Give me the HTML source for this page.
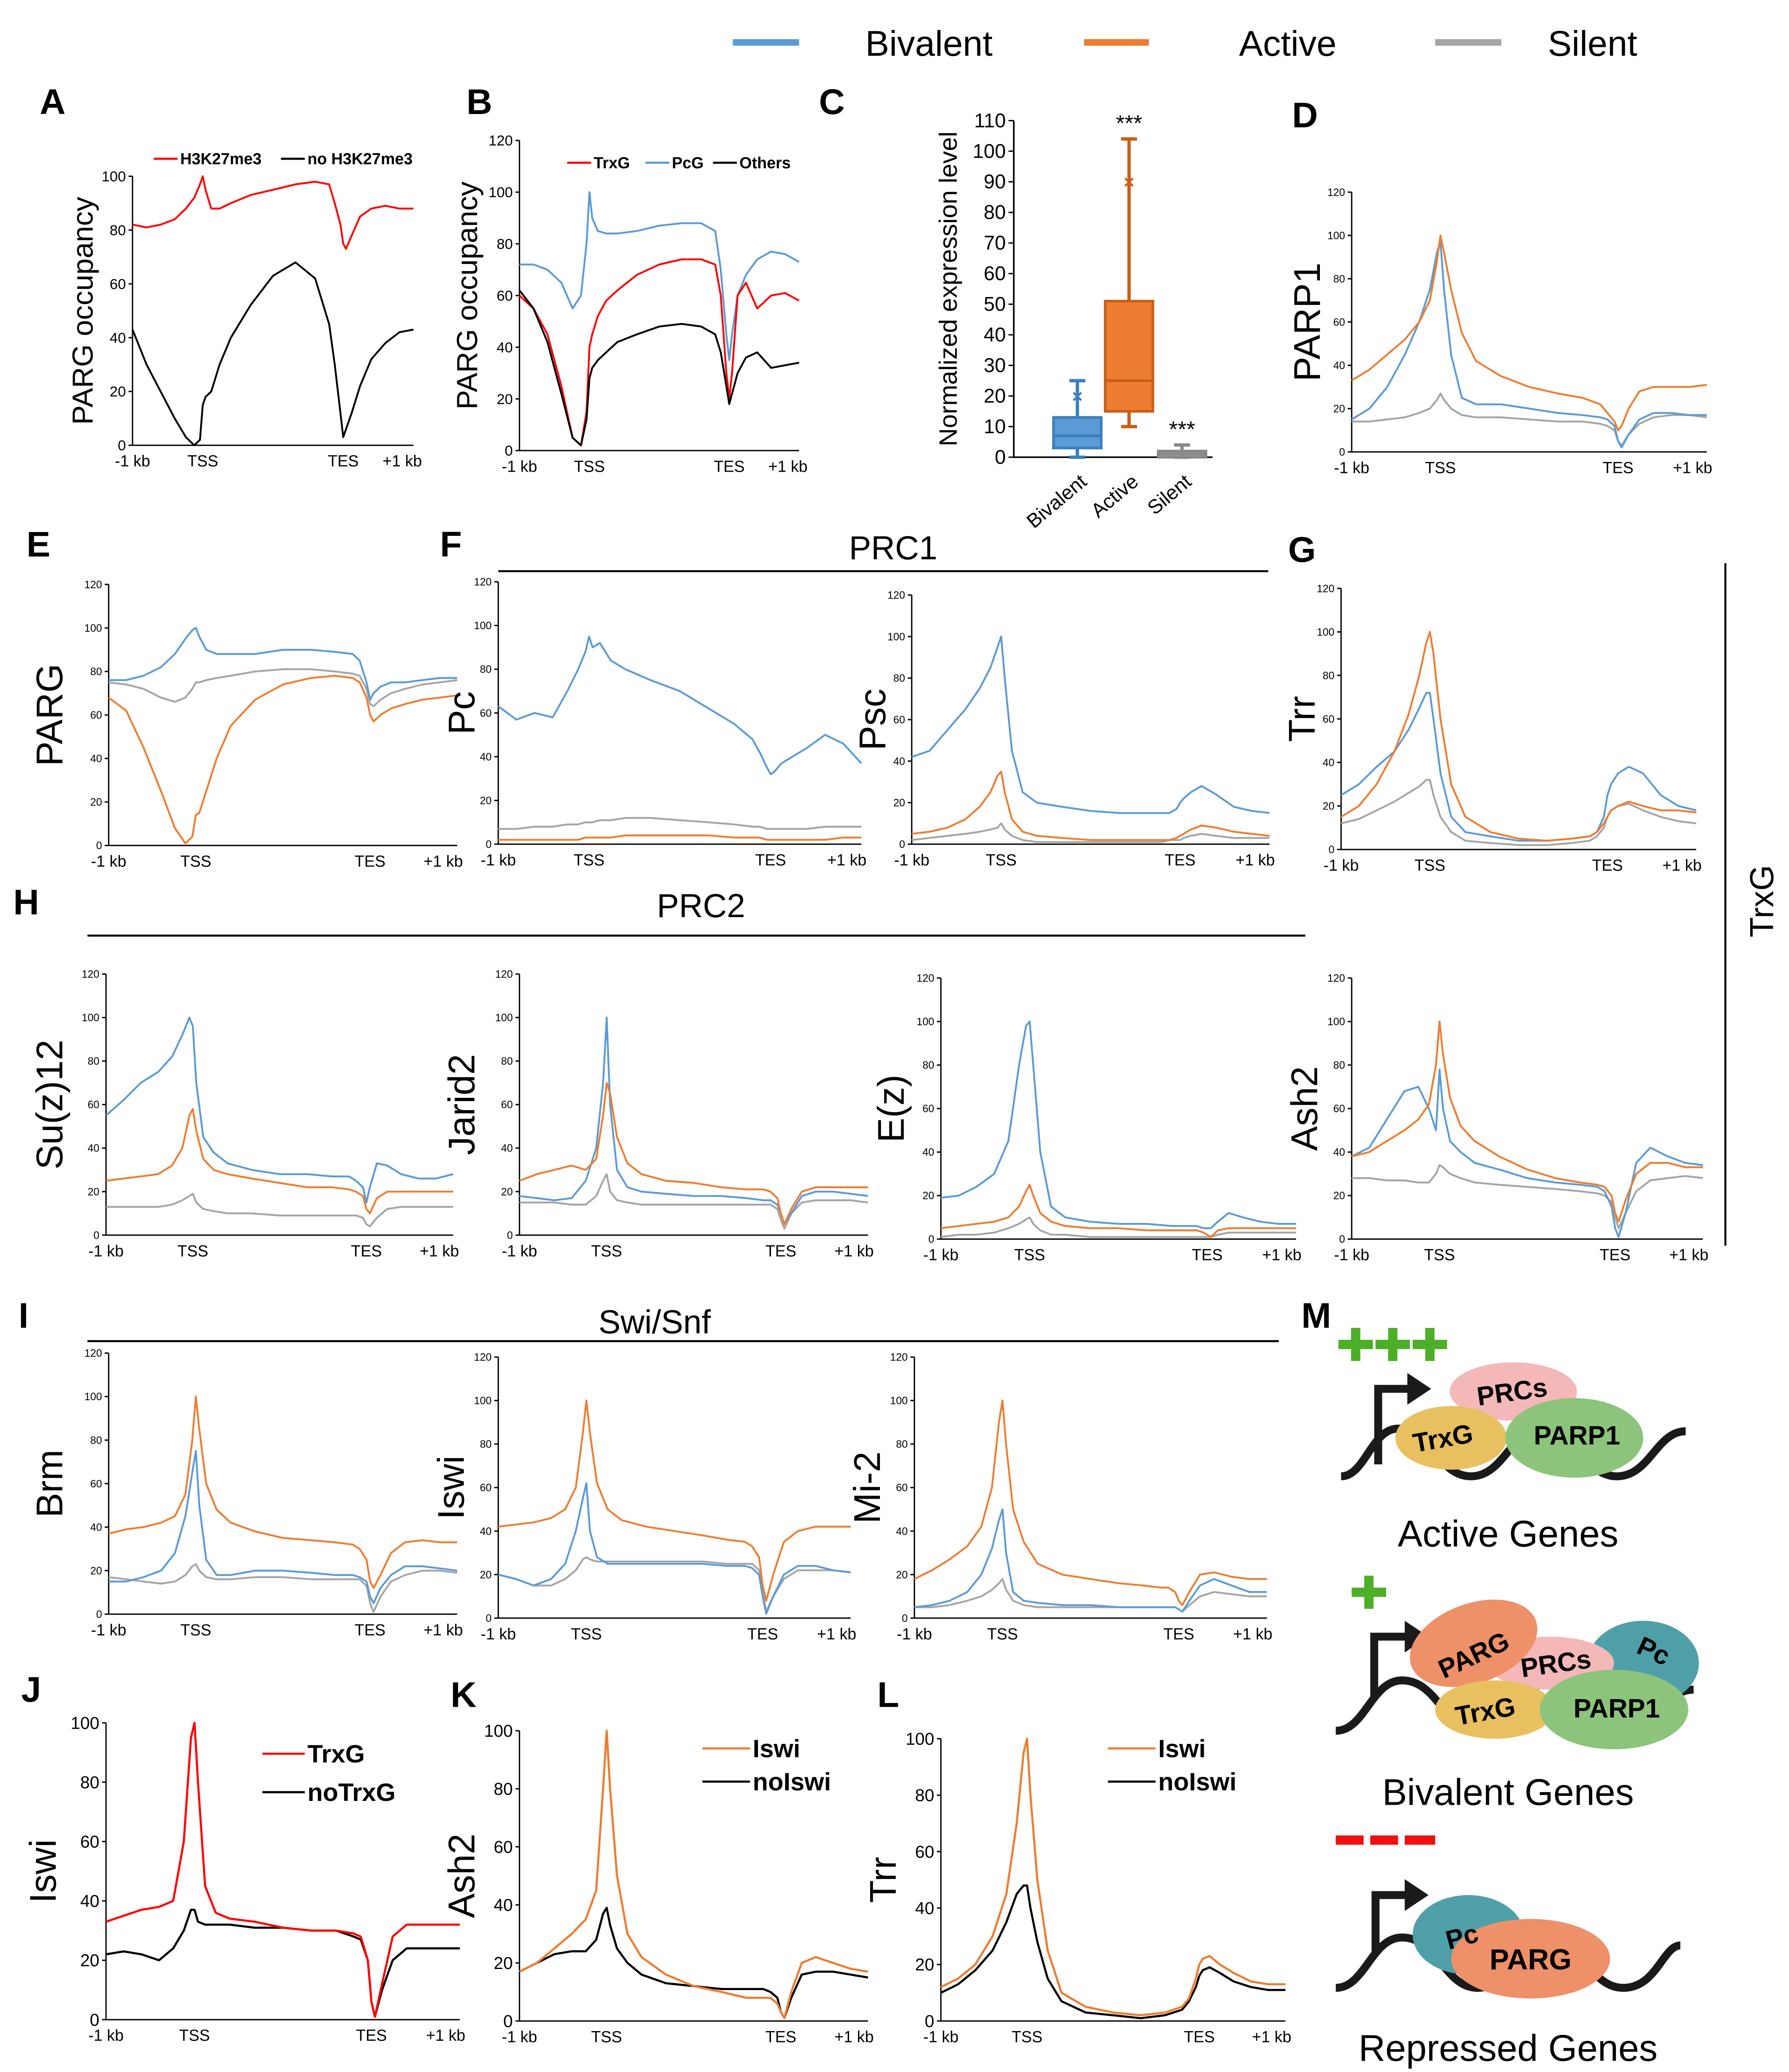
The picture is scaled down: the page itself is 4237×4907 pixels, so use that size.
<!DOCTYPE html>
<html><head><meta charset="utf-8">
<style>
html,body{margin:0;padding:0;background:#fff;}
svg{display:block;}
text{font-family:"Liberation Sans",sans-serif;}
</style></head>
<body>
<svg id="fig" xmlns="http://www.w3.org/2000/svg" width="4237" height="4907" viewBox="0 0 1350 1563.5" preserveAspectRatio="none">
<rect width="1350" height="1563.5" fill="#fff"/>
<g>
<line x1="553" y1="32" x2="603" y2="32" stroke="#5b9bd5" stroke-width="5"/>
<text x="653" y="42" font-size="27">Bivalent</text>
<line x1="818" y1="32" x2="867" y2="32" stroke="#ed7d31" stroke-width="5"/>
<text x="935" y="42" font-size="27">Active</text>
<line x1="1083" y1="32" x2="1133" y2="32" stroke="#a5a5a5" stroke-width="5"/>
<text x="1168" y="42" font-size="27">Silent</text>
</g>
<g font-weight="bold" font-size="27">
<text x="30" y="86">A</text><text x="352" y="86">B</text><text x="618" y="86">C</text><text x="975" y="96">D</text>
<text x="20" y="420">E</text><text x="332" y="420">F</text><text x="972" y="424">G</text>
<text x="10" y="690">H</text><text x="14" y="1002">I</text><text x="16" y="1284">J</text>
<text x="340" y="1288">K</text><text x="662" y="1288">L</text><text x="982" y="1002">M</text>
</g>
<g font-size="25">
<text x="674" y="422" text-anchor="middle">PRC1</text>
<line x1="376" y1="431" x2="957" y2="431" stroke="#000" stroke-width="1.5"/>
<text x="529" y="692" text-anchor="middle">PRC2</text>
<line x1="66" y1="706" x2="985" y2="706" stroke="#000" stroke-width="1.5"/>
<text x="494" y="1006" text-anchor="middle">Swi/Snf</text>
<line x1="66" y1="1012" x2="965" y2="1012" stroke="#000" stroke-width="1.5"/>
<line x1="1302" y1="425" x2="1302" y2="940" stroke="#000" stroke-width="1.5"/>
<text transform="translate(1338,680) rotate(-90)" text-anchor="middle">TrxG</text>
</g>
<g id="charts"></g>
<g id="boxplot"></g>
<g font-weight="bold">
<g>
<g fill="#4caf27"><rect x="1010" y="1011" width="26" height="7"/><rect x="1019.5" y="1002" width="7" height="25"/>
<rect x="1038" y="1011" width="26" height="7"/><rect x="1047.5" y="1002" width="7" height="25"/>
<rect x="1066" y="1011" width="26" height="7"/><rect x="1075.5" y="1002" width="7" height="25"/></g>
<path d="M1012,1114 C1030,1114 1035,1078 1055,1078 C1080,1078 1085,1114 1110,1114 C1135,1114 1140,1078 1165,1078 C1190,1078 1195,1114 1220,1114 C1245,1114 1250,1080 1272,1080" fill="none" stroke="#1a1a1a" stroke-width="6"/>
<path d="M1040,1105 L1040,1048 L1065,1048" fill="none" stroke="#1a1a1a" stroke-width="6"/><polygon points="1062,1036 1080,1048 1062,1060" fill="#1a1a1a"/>
<ellipse cx="1142" cy="1050" rx="48" ry="22" fill="#f4b8b8"/>
<ellipse cx="1095" cy="1085" rx="42" ry="24" fill="#e8c060"/>
<ellipse cx="1188" cy="1085" rx="52" ry="30" fill="#8cc47c"/>
<text x="1142" y="1057" font-size="20" text-anchor="middle" transform="rotate(-8,1142,1057)">PRCs</text>
<text x="1090" y="1092" font-size="20" text-anchor="middle" transform="rotate(-10,1090,1092)">TrxG</text>
<text x="1190" y="1090" font-size="20" text-anchor="middle">PARP1</text>
<text x="1138" y="1167" font-size="28" font-weight="normal" text-anchor="middle">Active Genes</text>
</g>
<g>
<rect x="1020" y="1198" width="26" height="7" fill="#4caf27"/><rect x="1029.5" y="1189" width="7" height="25" fill="#4caf27"/>
<path d="M1008,1306 C1030,1306 1035,1268 1058,1268 C1085,1268 1090,1306 1115,1306 C1140,1306 1145,1270 1170,1270 C1195,1270 1200,1306 1225,1306 C1250,1306 1255,1275 1278,1275" fill="none" stroke="#1a1a1a" stroke-width="6"/>
<path d="M1037,1280 L1037,1235 L1062,1235" fill="none" stroke="#1a1a1a" stroke-width="6"/><polygon points="1060,1223 1078,1235 1060,1247" fill="#1a1a1a"/>
<ellipse cx="1240" cy="1255" rx="42" ry="32" fill="#4f9fa8"/>
<ellipse cx="1170" cy="1255" rx="48" ry="20" fill="#f4b8b8"/>
<ellipse cx="1112" cy="1240" rx="50" ry="30" fill="#ee9068" transform="rotate(-20,1112,1240)"/>
<ellipse cx="1128" cy="1290" rx="45" ry="22" fill="#e8c060"/>
<ellipse cx="1218" cy="1290" rx="56" ry="30" fill="#8cc47c"/>
<text x="1115" y="1255" font-size="20" text-anchor="middle" transform="rotate(-25,1115,1255)">PARG</text>
<text x="1175" y="1262" font-size="20" text-anchor="middle" transform="rotate(-8,1175,1262)">PRCs</text>
<text x="1245" y="1252" font-size="20" text-anchor="middle" transform="rotate(25,1245,1252)">Pc</text>
<text x="1122" y="1298" font-size="20" text-anchor="middle" transform="rotate(-10,1122,1298)">TrxG</text>
<text x="1220" y="1296" font-size="20" text-anchor="middle">PARP1</text>
<text x="1138" y="1362" font-size="28" font-weight="normal" text-anchor="middle">Bivalent Genes</text>
</g>
<g>
<g fill="#ee1010"><rect x="1008" y="1385" width="21" height="7"/><rect x="1034" y="1385" width="21" height="7"/><rect x="1060" y="1385" width="23" height="7"/></g>
<path d="M1008,1500 C1030,1500 1035,1462 1058,1462 C1085,1462 1090,1500 1115,1500 C1140,1500 1145,1465 1170,1465 C1195,1465 1200,1500 1225,1500 C1250,1500 1255,1468 1268,1468" fill="none" stroke="#1a1a1a" stroke-width="6"/>
<path d="M1038,1475 L1038,1430 L1062,1430" fill="none" stroke="#1a1a1a" stroke-width="6"/><polygon points="1060,1418 1078,1430 1060,1442" fill="#1a1a1a"/>
<ellipse cx="1108" cy="1460" rx="42" ry="30" fill="#4f9fa8"/>
<ellipse cx="1155" cy="1478" rx="60" ry="30" fill="#ee9068"/>
<text x="1105" y="1468" font-size="20" text-anchor="middle" transform="rotate(-15,1105,1468)">Pc</text>
<text x="1155" y="1486" font-size="22" text-anchor="middle">PARG</text>
<text x="1138" y="1555" font-size="28" font-weight="normal" text-anchor="middle">Repressed Genes</text>
</g>
</g>
</svg>
<script>
const NS="http://www.w3.org/2000/svg";
const xPos=[0,5,10,15,19,22,24,25,26,28,31,35,42,50,58,65,70,72,74,75,76,78,81,85,90,95,100];
const xTickLabels=["-1 kb","TSS","TES","+1 kb"];
const xTickVals=[0,25,75,96];
const ticks100=[0,20,40,60,80,100];
const ticks120=[0,20,40,60,80,100,120];
// Panel A
const aH3K27=[82,81,82,84,88,92,97,100,95,88,88,90,93,95,97,98,97,90,82,75,73,78,85,88,89,88,88];
const aNoH3K27=[43,30,20,10,3,0,2,15,18,20,30,40,52,63,68,62,45,30,12,3,6,12,22,32,38,42,43];
// Panel B
const bPcG=[72,72,70,65,55,60,80,100,90,85,84,84,85,87,88,88,85,70,45,35,45,60,68,74,77,76,73];
const bTrxG=[60,55,45,25,5,2,15,40,45,52,58,62,68,72,74,74,72,60,30,20,30,60,65,55,60,61,58];
const bOthers=[62,55,42,22,5,2,12,28,32,35,38,42,45,48,49,48,45,38,25,18,22,30,36,38,32,33,34];
// Panel D PARP1
const dAct=[33,38,45,52,60,70,88,100,92,75,55,42,35,30,27,25,22,18,14,10,12,20,28,30,30,30,31];
const dBiv=[15,20,30,45,60,75,92,97,75,45,25,22,22,20,18,17,16,15,12,5,2,8,15,18,18,17,17];
const dSil=[14,14,15,16,18,20,24,27,24,20,17,16,16,15,14,14,13,12,10,5,3,8,13,16,17,17,16];
// Panel E PARG
const eBiv=[76,76,78,82,88,95,99,100,96,90,88,88,88,90,90,89,88,85,75,67,70,73,75,75,76,77,77];
const eSil=[75,74,72,68,66,68,72,75,75,76,77,78,80,81,81,80,79,78,72,65,64,67,70,72,74,75,76];
const eAct=[68,62,45,25,8,1,4,14,15,25,40,55,67,74,77,78,77,75,68,60,57,60,63,65,67,68,69];
// Panel F Pc
const pcBiv=[63,57,60,58,70,80,88,95,90,92,84,80,75,70,62,55,48,42,35,32,33,37,40,44,50,46,37];
const pcSil=[7,7,8,8,9,9,10,10,10,11,11,12,12,11,10,9,8,8,7,7,7,7,7,7,8,8,8];
const pcAct=[2,2,2,2,2,2,3,3,3,3,3,4,4,4,4,3,3,3,2,2,2,2,2,2,2,3,3];
// Panel F Psc
const pscBiv=[42,45,55,65,75,85,95,100,80,45,25,20,18,16,15,15,15,15,17,20,22,25,28,24,18,16,15];
const pscAct=[5,6,8,12,18,25,33,35,25,12,6,4,3,2,2,2,2,2,3,4,5,7,9,8,6,5,4];
const pscSil=[2,3,4,5,6,7,8,10,7,4,2,1,1,1,1,1,1,2,2,2,3,4,5,4,3,3,3];
// Panel G Trr
const trrAct=[15,20,30,45,62,80,95,100,90,60,30,15,8,5,4,5,6,8,12,15,18,20,22,20,18,18,17];
const trrBiv=[25,30,38,45,55,65,72,72,60,35,15,8,6,4,4,5,6,8,15,25,30,35,38,35,25,20,18];
const trrSil=[12,14,18,22,26,29,32,32,25,15,8,4,3,2,2,3,4,6,10,15,18,20,21,18,15,13,12];
// Panel H
const suzBiv=[55,62,70,75,82,92,100,96,70,45,38,33,30,28,28,27,27,25,22,15,22,33,32,28,26,26,28];
const suzAct=[25,26,27,28,32,40,55,58,48,35,30,28,26,24,22,22,21,20,18,12,10,17,20,20,20,20,20];
const suzSil=[13,13,13,13,14,16,18,19,15,12,11,10,10,9,9,9,9,9,8,5,4,8,12,13,13,13,13];
const jarBiv=[18,17,16,17,25,40,70,100,60,30,22,20,19,18,18,17,16,16,14,10,5,10,18,20,20,19,18];
const jarAct=[25,28,30,32,30,35,55,70,65,45,33,28,25,24,22,21,21,20,17,10,5,12,20,22,22,22,22];
const jarSil=[15,15,15,14,14,18,25,28,20,16,15,14,14,14,14,14,14,14,12,7,3,10,15,16,16,16,15];
const ezBiv=[19,20,24,30,45,80,98,100,80,40,15,10,8,7,7,6,6,6,5,5,5,8,12,10,8,7,7];
const ezAct=[5,6,7,8,10,15,22,25,20,12,8,6,5,5,4,4,4,4,3,2,1,4,5,5,5,5,5];
const ezSil=[1,2,2,3,5,7,9,10,7,4,2,2,1,1,1,1,1,1,1,1,1,2,3,3,3,3,3];
const ashAct=[38,40,45,50,55,62,80,100,85,65,52,45,38,32,28,26,25,24,20,12,8,18,30,35,35,33,33];
const ashBiv=[38,42,55,68,70,60,50,78,60,45,40,35,32,28,26,25,24,22,15,5,1,12,35,42,38,35,34];
const ashSil=[28,28,27,27,26,26,30,34,33,30,28,26,25,24,23,22,21,20,17,10,5,12,22,27,28,29,28];
// Panel I
const brmAct=[37,39,40,42,45,55,80,100,85,60,48,42,38,35,34,33,32,30,25,15,12,18,28,33,34,33,33];
const brmBiv=[15,15,17,20,28,45,65,75,50,25,18,18,20,20,19,18,18,17,15,8,5,12,18,22,22,21,20];
const brmSil=[17,16,15,14,15,18,22,23,20,17,16,16,17,17,16,16,16,16,13,5,1,8,15,18,20,20,19];
const iswAct=[42,43,44,46,50,60,85,100,85,62,50,45,42,40,38,36,35,33,28,15,8,20,35,40,42,42,42];
const iswBiv=[20,18,15,18,25,40,55,62,40,28,25,25,25,25,25,24,24,23,20,10,2,10,20,24,24,22,21];
const iswSil=[20,18,15,15,18,22,27,28,27,26,26,26,26,26,26,25,25,25,22,12,3,10,18,22,22,22,21];
const mi2Act=[18,22,27,33,42,60,90,100,80,50,35,25,20,18,16,15,14,14,12,8,6,12,20,21,19,18,18];
const mi2Biv=[5,6,8,12,20,32,45,50,30,12,8,7,6,6,5,5,5,5,5,4,3,8,15,18,15,12,12];
const mi2Sil=[5,5,6,8,10,13,16,18,13,8,6,5,5,5,5,5,5,5,5,4,3,6,10,12,11,10,10];
// Panels J K L
const jTrxG=[33,35,37,38,40,60,95,100,80,45,36,34,33,31,30,30,29,28,20,6,1,12,28,32,32,32,32];
const jNoTrxG=[22,23,22,20,24,30,37,37,33,32,32,32,31,31,30,30,28,27,20,6,1,10,20,24,24,24,24];
const kIswi=[17,20,25,30,35,45,80,100,80,50,30,22,16,12,10,8,8,8,6,3,1,10,20,22,20,18,17];
const kNoIswi=[17,20,23,24,24,28,37,39,33,25,20,16,13,12,11,11,11,10,8,3,1,8,16,17,17,16,15];
const lIswi=[12,15,20,30,45,70,95,100,80,50,25,10,5,3,2,3,5,8,15,20,22,23,20,17,14,13,13];
const lNoIswi=[10,13,18,25,35,45,48,48,40,28,15,7,3,2,1,2,4,7,12,16,18,19,17,14,12,11,11];
// Panel C box plot
const boxCats=["Bivalent","Active","Silent"];
const boxMin=[0,10,0];
const boxQ1=[3,15,0];
const boxMed=[7,25,1];
const boxQ3=[13,51,2];
const boxMax=[25,104,4];
const boxMean=[20,90,1];
const boxTicks=[0,10,20,30,40,50,60,70,80,90,100,110];
const boxSig=["","***","***"];

const B="#5b9bd5",O="#ed7d31",G="#a5a5a5",R="#ff0000",K="#000";
const root=document.getElementById('charts');
function el(tag,attrs,parent){const e=document.createElementNS(NS,tag);for(const k in attrs)e.setAttribute(k,attrs[k]);(parent||root).appendChild(e);return e;}

function panel(o){
  const g=el('g',{});
  
  
  const sx=v=>o.x0+(o.x1-o.x0)*v/100;
  const sy=v=>o.y1-(o.y1-o.yTop)*v/o.ymax;
  const ax=el('g',{},g);
  
  
  el('line',{x1:o.x0,y1:sy(o.ymax),x2:o.x0,y2:o.y1,stroke:'#000','stroke-width':1},ax);
  el('line',{x1:o.x0,y1:o.y1,x2:o.x1,y2:o.y1,stroke:'#000','stroke-width':1},ax);
  o.ticks.forEach(t=>{
    el('line',{x1:o.x0-3,y1:sy(t),x2:o.x0,y2:sy(t),stroke:'#000','stroke-width':1},ax);
    const tx=el('text',{x:o.x0-5,y:sy(t)+o.tfs*0.35,'font-size':o.tfs,'text-anchor':'end'},ax);
    tx.textContent=t;
    
    
  });
  xTickVals.forEach((v,i)=>{
    const tx=el('text',{x:sx(v),y:o.y1+16,'font-size':12,'text-anchor':'middle'},ax);
    tx.textContent=xTickLabels[i];
    
    
  });
  const yt=el('text',{transform:`translate(${o.tx},${(o.yTop+o.y1)/2}) rotate(-90)`,'font-size':o.tfsTitle,'text-anchor':'middle'},g);
  yt.textContent=o.title;
  
  
  o.series.forEach(s=>{
    const pts=s.d.map((v,i)=>sx(xPos[i]).toFixed(1)+','+sy(v).toFixed(1)).join(' ');
    const p=el('polyline',{points:pts,fill:'none',stroke:s.c,'stroke-width':s.w||1.4,'stroke-linejoin':'round'},g);
    
    
  });
  if(o.legend){
    o.legend.forEach(L=>{
      const lg=el('g',{},g);
      
      
      el('line',{x1:L.x,y1:L.y-L.fs*0.35,x2:L.x+L.len,y2:L.y-L.fs*0.35,stroke:L.c,'stroke-width':L.sw||1.6},lg);
      const t=el('text',{x:L.x+L.len+2,y:L.y,'font-size':L.fs,'font-weight':'bold'},lg);
      t.textContent=L.t;
    });
  }
}
const S=8;
panel({name:'panel-a',x0:100,x1:312,yTop:133,y1:336,ymax:100,ticks:ticks100,tfs:11,title:'PARG occupancy',tx:70,tfsTitle:22,
 series:[{d:aH3K27,c:R,n:'line-h3k27me3'},{d:aNoH3K27,c:K,n:'line-no-h3k27me3'}],
 legend:[{x:116,y:124,len:18,t:'H3K27me3',c:R,fs:12},{x:212,y:124,len:18,t:'no H3K27me3',c:K,fs:12}]});
panel({name:'panel-b',x0:392,x1:603,yTop:106,y1:340,ymax:120,ticks:ticks120,tfs:11,title:'PARG occupancy',tx:360,tfsTitle:22,
 series:[{d:bPcG,c:B,n:'line-pcg'},{d:bTrxG,c:R,n:'line-trxg'},{d:bOthers,c:K,n:'line-others'}],
 legend:[{x:428,y:127,len:18,t:'TrxG',c:R,fs:12},{x:487,y:127,len:18,t:'PcG',c:B,fs:12},{x:538,y:127,len:18,t:'Others',c:K,fs:12}]});
panel({name:'panel-d-parp1',x0:1020,x1:1288,yTop:145,y1:341,ymax:120,ticks:ticks120,tfs:S,title:'PARP1',tx:996,tfsTitle:28,
 series:[{d:dSil,c:G,n:'line-silent'},{d:dBiv,c:B,n:'line-bivalent'},{d:dAct,c:O,n:'line-active'}]});
panel({name:'panel-e-parg',x0:82,x1:345,yTop:441,y1:638,ymax:120,ticks:ticks120,tfs:S,title:'PARG',tx:47,tfsTitle:28,
 series:[{d:eSil,c:G,n:'line-silent'},{d:eBiv,c:B,n:'line-bivalent'},{d:eAct,c:O,n:'line-active'}]});
panel({name:'panel-f-pc',x0:376,x1:650,yTop:439,y1:637,ymax:120,ticks:ticks120,tfs:S,title:'Pc',tx:358,tfsTitle:28,
 series:[{d:pcSil,c:G,n:'line-silent'},{d:pcBiv,c:B,n:'line-bivalent'},{d:pcAct,c:O,n:'line-active'}]});
panel({name:'panel-f-psc',x0:688,x1:958,yTop:449,y1:637,ymax:120,ticks:ticks120,tfs:S,title:'Psc',tx:668,tfsTitle:28,
 series:[{d:pscSil,c:G,n:'line-silent'},{d:pscBiv,c:B,n:'line-bivalent'},{d:pscAct,c:O,n:'line-active'}]});
panel({name:'panel-g-trr',x0:1012,x1:1280,yTop:444,y1:641,ymax:120,ticks:ticks120,tfs:S,title:'Trr',tx:992,tfsTitle:28,
 series:[{d:trrSil,c:G,n:'line-silent'},{d:trrBiv,c:B,n:'line-bivalent'},{d:trrAct,c:O,n:'line-active'}]});
panel({name:'panel-h-suz12',x0:80,x1:342,yTop:735,y1:932,ymax:120,ticks:ticks120,tfs:S,title:'Su(z)12',tx:47,tfsTitle:28,
 series:[{d:suzSil,c:G,n:'line-silent'},{d:suzBiv,c:B,n:'line-bivalent'},{d:suzAct,c:O,n:'line-active'}]});
panel({name:'panel-h-jarid2',x0:392,x1:655,yTop:735,y1:932,ymax:120,ticks:ticks120,tfs:S,title:'Jarid2',tx:358,tfsTitle:28,
 series:[{d:jarSil,c:G,n:'line-silent'},{d:jarBiv,c:B,n:'line-bivalent'},{d:jarAct,c:O,n:'line-active'}]});
panel({name:'panel-h-ez',x0:710,x1:978,yTop:738,y1:935,ymax:120,ticks:ticks120,tfs:S,title:'E(z)',tx:682,tfsTitle:28,
 series:[{d:ezSil,c:G,n:'line-silent'},{d:ezBiv,c:B,n:'line-bivalent'},{d:ezAct,c:O,n:'line-active'}]});
panel({name:'panel-h-ash2',x0:1020,x1:1285,yTop:738,y1:935,ymax:120,ticks:ticks120,tfs:S,title:'Ash2',tx:994,tfsTitle:28,
 series:[{d:ashSil,c:G,n:'line-silent'},{d:ashBiv,c:B,n:'line-bivalent'},{d:ashAct,c:O,n:'line-active'}]});
panel({name:'panel-i-brm',x0:82,x1:345,yTop:1021,y1:1218,ymax:120,ticks:ticks120,tfs:S,title:'Brm',tx:47,tfsTitle:28,
 series:[{d:brmSil,c:G,n:'line-silent'},{d:brmBiv,c:B,n:'line-bivalent'},{d:brmAct,c:O,n:'line-active'}]});
panel({name:'panel-i-iswi',x0:376,x1:642,yTop:1024,y1:1221,ymax:120,ticks:ticks120,tfs:S,title:'Iswi',tx:350,tfsTitle:28,
 series:[{d:iswSil,c:G,n:'line-silent'},{d:iswBiv,c:B,n:'line-bivalent'},{d:iswAct,c:O,n:'line-active'}]});
panel({name:'panel-i-mi2',x0:690,x1:956,yTop:1024,y1:1221,ymax:120,ticks:ticks120,tfs:S,title:'Mi-2',tx:664,tfsTitle:28,
 series:[{d:mi2Sil,c:G,n:'line-silent'},{d:mi2Biv,c:B,n:'line-bivalent'},{d:mi2Act,c:O,n:'line-active'}]});
panel({name:'panel-j',x0:80,x1:347,yTop:1300,y1:1524,ymax:100,ticks:ticks100,tfs:13,title:'Iswi',tx:42,tfsTitle:28,
 series:[{d:jNoTrxG,c:K,n:'line-notrxg',w:1.6},{d:jTrxG,c:R,n:'line-trxg',w:1.6}],
 legend:[{x:198,y:1330,len:32,t:'TrxG',c:R,fs:19},{x:198,y:1359,len:32,t:'noTrxG',c:K,fs:19}]});
panel({name:'panel-k',x0:392,x1:655,yTop:1306,y1:1525,ymax:100,ticks:ticks100,tfs:13,title:'Ash2',tx:358,tfsTitle:28,
 series:[{d:kNoIswi,c:K,n:'line-noiswi',w:1.6},{d:kIswi,c:O,n:'line-iswi',w:1.6}],
 legend:[{x:530,y:1326,len:36,t:'Iswi',c:O,fs:19},{x:530,y:1351,len:36,t:'noIswi',c:K,fs:19}]});
panel({name:'panel-l',x0:710,x1:970,yTop:1312,y1:1525,ymax:100,ticks:ticks100,tfs:13,title:'Trr',tx:676,tfsTitle:28,
 series:[{d:lNoIswi,c:K,n:'line-noiswi',w:1.6},{d:lIswi,c:O,n:'line-iswi',w:1.6}],
 legend:[{x:836,y:1326,len:36,t:'Iswi',c:O,fs:19},{x:836,y:1351,len:36,t:'noIswi',c:K,fs:19}]});

// Box plot
(function(){
  const g=document.getElementById('boxplot');
  const x0=765,yTop=91,y1=345,ymax=110;
  const sy=v=>y1-(y1-yTop)*v/ymax;
  const cx=[813,852,892];
  const fills=["#5b9bd5","#ed7d31","#a5a5a5"];
  const strokes=["#3c7fbf","#c85f18","#888"];
  el('line',{x1:x0,y1:sy(ymax),x2:x0,y2:y1,stroke:'#000','stroke-width':1.2},g);
  el('line',{x1:x0,y1:y1,x2:915,y2:y1,stroke:'#000','stroke-width':1.2},g);
  boxTicks.forEach(t=>{
    el('line',{x1:x0-4,y1:sy(t),x2:x0,y2:sy(t),stroke:'#000'},g);
    const tx=el('text',{x:x0-6,y:sy(t)+5,'font-size':15,'text-anchor':'end'},g);
    tx.textContent=t;
    
    
  });
  const tt=el('text',{transform:`translate(722,${(yTop+y1)/2}) rotate(-90)`,'font-size':19,'text-anchor':'middle'},g);
  tt.textContent='Normalized expression level';
  
  
  boxCats.forEach((c,i)=>{
    const bg=el('g',{},g);
    
    
    const w=36,x=cx[i];
    el('line',{x1:x,y1:sy(boxMin[i]),x2:x,y2:sy(boxMax[i]),stroke:strokes[i],'stroke-width':2.5},bg);
    el('line',{x1:x-6,y1:sy(boxMax[i]),x2:x+6,y2:sy(boxMax[i]),stroke:strokes[i],'stroke-width':2.5},bg);
    el('line',{x1:x-6,y1:sy(boxMin[i]),x2:x+6,y2:sy(boxMin[i]),stroke:strokes[i],'stroke-width':2.5},bg);
    el('rect',{x:x-w/2,y:sy(boxQ3[i]),width:w,height:Math.max(2,sy(boxQ1[i])-sy(boxQ3[i])),fill:fills[i],stroke:strokes[i],'stroke-width':2},bg);
    el('line',{x1:x-w/2,y1:sy(boxMed[i]),x2:x+w/2,y2:sy(boxMed[i]),stroke:strokes[i],'stroke-width':2},bg);
    const m=el('text',{x:x,y:sy(boxMean[i])+5,'font-size':14,'text-anchor':'middle',fill:strokes[i],'font-weight':'bold'},bg);
    m.textContent='×';
    if(boxSig[i]){const s=el('text',{x:x,y:sy(boxMax[i])-6,'font-size':17,'text-anchor':'middle'},bg);s.textContent=boxSig[i];}
    const lb=el('text',{transform:`translate(${x+8},${y1+20}) rotate(-40)`,'font-size':15,'text-anchor':'end'},bg);
    lb.textContent=c;
  });
})();
</script>
</body></html>
